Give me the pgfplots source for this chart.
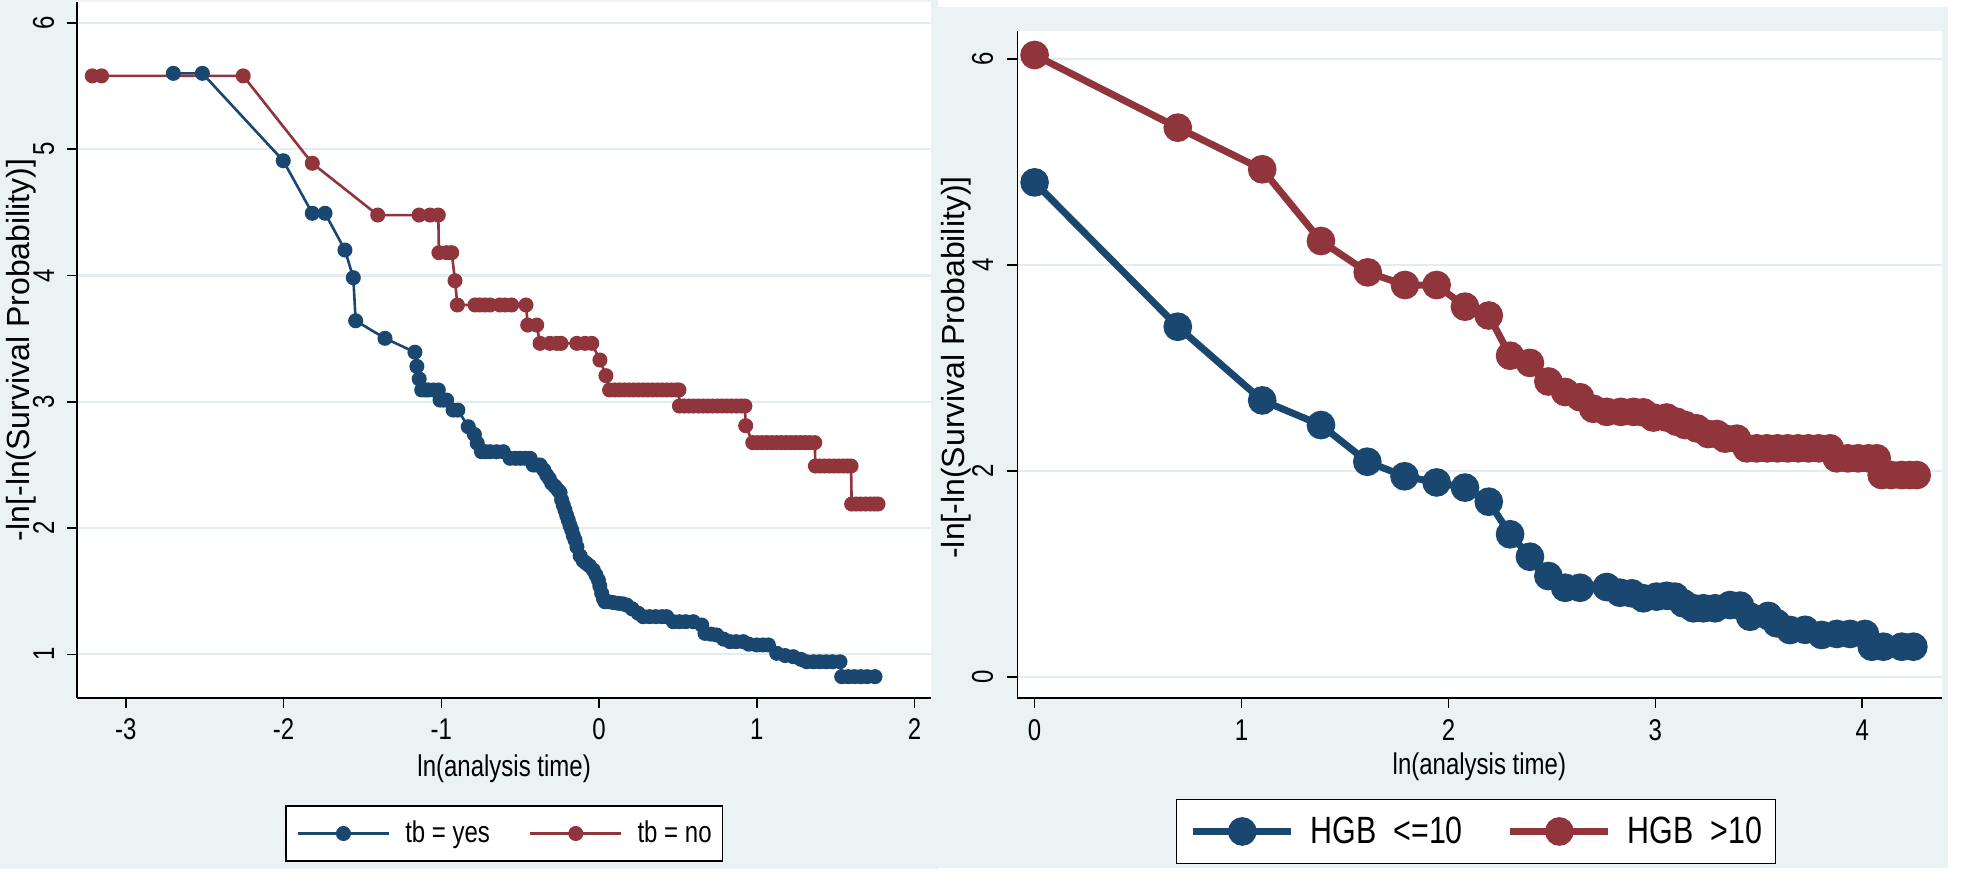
\documentclass[border=0pt]{standalone}
\usepackage{fontspec}
\usepackage{pgfplots}
\pgfplotsset{compat=1.18}
\setmainfont{Liberation Sans}
\newfontfamily\narrowfont[FakeStretch=0.8]{Liberation Sans}
\definecolor{stnavy}{HTML}{1A476F}
\definecolor{stmaroon}{HTML}{90353B}
\definecolor{stbg}{HTML}{EAF2F3}
\definecolor{stgrid}{HTML}{E3ECEE}

\pgfplotsset{
  statabase/.style={
    scale only axis,
    axis x line*=bottom, axis y line*=left,
    axis background/.style={fill=white},
    tick align=outside, major tick length=5pt,
    every tick/.style={black, line width=0.8pt},
    axis line style={black, line width=0.8pt},
    ymajorgrids, major grid style={stgrid, line width=1.1pt},
    tick label style={font=\narrowfont\fontsize{15pt}{18pt}\selectfont, inner sep=0pt},
    xticklabel style={anchor=base, yshift=-16pt},
    ylabel style={font=\fontsize{16pt}{19pt}\selectfont, anchor=center, inner sep=0pt},
    xlabel style={font=\narrowfont\fontsize{15pt}{18pt}\selectfont, anchor=base, inner sep=0pt},
    legend cell align=left,
  }
}

\begin{document}
\begin{tikzpicture}
\path[use as bounding box] (0,0) rectangle (980.5pt,-443.5pt);
\fill[stbg] (0,0) rectangle (469pt,-434.5pt);
\fill[stbg] (465pt,-3.5pt) rectangle (974pt,-434pt);

% ---------------- left panel ----------------
\begin{axis}[statabase,
  at={(38.65pt,-348.85pt)}, anchor=south west,
  width=426.85pt, height=347.85pt,
  xmin=-3.308, xmax=2.105, ymin=0.6564, ymax=6.165,
  xtick={-3,-2,-1,0,1,2}, xticklabels={-3,-2,-1,0,1,2},
  ytick={1,2,3,4,5,6}, yticklabels={1,2,3,4,5,6},
  yticklabel style={xshift=-6.4pt, rotate=90, anchor=south},
  xlabel={ln(analysis time)},
  xlabel style={at={(axis description cs:0.5,-0.1136)}},
  ylabel={-ln[-ln(Survival Probability)]},
  ylabel style={at={(axis description cs:-0.066,0.5)}},
  legend columns=2,
  legend style={at={(axis description cs:0.5,-0.1952)}, anchor=center,
    draw=black, line width=0.7pt, fill=white,
    font=\narrowfont\fontsize{15pt}{18pt}\selectfont,
    inner xsep=5.3pt, inner ysep=7.5pt,
    nodes={inner sep=0pt},
    /tikz/every odd column/.append style={column sep=7.5pt},
    /tikz/every even column/.append style={column sep=19.5pt}},
  legend image code/.code={\draw[mark repeat=2,mark phase=2,#1] plot coordinates {(0pt,0pt) (22.75pt,0pt) (45.5pt,0pt)};},
]
\addplot[stnavy, line width=1.3pt, mark=*, mark size=3.1pt, mark options={solid, fill=stnavy}] coordinates {
(-2.699,5.60) (-2.515,5.60) (-2.002,4.908) (-1.818,4.492) (-1.737,4.492) (-1.611,4.201)
(-1.558,3.982) (-1.543,3.641) (-1.357,3.502) (-1.167,3.392) (-1.155,3.28) (-1.140,3.18)
(-1.124,3.093) (-1.100,3.093) (-1.082,3.093) (-1.050,3.093) (-1.019,3.093)
(-1.008,3.013) (-0.985,3.013) (-0.966,3.013) (-0.925,2.934) (-0.895,2.934)
(-0.829,2.802) (-0.790,2.740) (-0.772,2.671) (-0.745,2.604) (-0.720,2.604) (-0.690,2.604)
(-0.650,2.604) (-0.607,2.604) (-0.564,2.552) (-0.530,2.552) (-0.500,2.552) (-0.470,2.552)
(-0.437,2.552) (-0.417,2.499) (-0.395,2.499) (-0.374,2.499) (-0.350,2.460) (-0.332,2.420)
(-0.315,2.390) (-0.300,2.354) (-0.280,2.330) (-0.260,2.300) (-0.247,2.280) (-0.237,2.222)
(-0.226,2.180) (-0.216,2.142) (-0.205,2.100) (-0.195,2.063) (-0.184,2.020) (-0.173,1.984)
(-0.163,1.940) (-0.152,1.905) (-0.140,1.850) (-0.120,1.780) (-0.100,1.740) (-0.080,1.720)
(-0.060,1.700) (-0.036,1.667) (-0.020,1.630) (-0.004,1.588) (0.005,1.540) (0.017,1.483)
(0.028,1.440) (0.038,1.416) (0.060,1.416) (0.090,1.410) (0.122,1.404) (0.150,1.400)
(0.176,1.390) (0.210,1.360) (0.249,1.325) (0.280,1.298) (0.320,1.298) (0.360,1.298)
(0.400,1.298) (0.429,1.298) (0.471,1.258) (0.510,1.258) (0.550,1.258) (0.598,1.258)
(0.651,1.232) (0.672,1.166) (0.710,1.160) (0.746,1.153) (0.790,1.120) (0.831,1.100)
(0.870,1.100) (0.915,1.100) (0.950,1.080) (1.000,1.074) (1.040,1.074) (1.074,1.074)
(1.127,1.008) (1.180,0.990) (1.232,0.981) (1.280,0.960) (1.317,0.941) (1.360,0.941)
(1.400,0.941) (1.440,0.941) (1.480,0.941) (1.528,0.941) (1.539,0.823) (1.580,0.823)
(1.620,0.823) (1.660,0.823) (1.700,0.823) (1.750,0.823)
};
\addlegendentry{tb = yes}
\addplot[stmaroon, line width=1.3pt, mark=*, mark size=3.1pt, mark options={solid, fill=stmaroon}] coordinates {
(-3.213,5.58) (-3.154,5.58) (-2.256,5.58) (-1.818,4.888) (-1.403,4.478) (-1.141,4.478)
(-1.071,4.478) (-1.019,4.478) (-1.015,4.180) (-0.966,4.180) (-0.934,4.180) (-0.913,3.958)
(-0.898,3.766) (-0.786,3.766) (-0.755,3.766) (-0.723,3.766) (-0.691,3.766) (-0.628,3.766)
(-0.596,3.766) (-0.554,3.766) (-0.463,3.766) (-0.452,3.607) (-0.395,3.607)
(-0.374,3.462) (-0.311,3.462) (-0.268,3.462) (-0.241,3.462) (-0.141,3.462) (-0.089,3.462)
(-0.046,3.462) (0.006,3.330) (0.044,3.206)
(0.067,3.093) (0.100,3.093) (0.130,3.093) (0.160,3.093) (0.190,3.093) (0.220,3.093)
(0.250,3.093) (0.280,3.093) (0.310,3.093) (0.340,3.093) (0.370,3.093) (0.400,3.093)
(0.430,3.093) (0.460,3.093) (0.490,3.093) (0.507,3.093)
(0.510,2.966) (0.540,2.966) (0.570,2.966) (0.600,2.966) (0.630,2.966) (0.660,2.966)
(0.690,2.966) (0.720,2.966) (0.750,2.966) (0.780,2.966) (0.810,2.966) (0.840,2.966)
(0.870,2.966) (0.900,2.966) (0.925,2.966) (0.930,2.810)
(0.975,2.676) (1.005,2.676) (1.035,2.676) (1.065,2.676) (1.095,2.676) (1.125,2.676)
(1.155,2.676) (1.185,2.676) (1.215,2.676) (1.245,2.676) (1.275,2.676) (1.305,2.676)
(1.335,2.676) (1.368,2.676)
(1.372,2.491) (1.400,2.491) (1.430,2.491) (1.460,2.491) (1.490,2.491) (1.520,2.491)
(1.550,2.491) (1.575,2.491) (1.598,2.491)
(1.602,2.190) (1.630,2.190) (1.660,2.190) (1.690,2.190) (1.720,2.190) (1.745,2.190) (1.769,2.190)
};
\addlegendentry{tb = no}
\end{axis}

% ---------------- right panel ----------------
\begin{axis}[statabase,
  at={(508.65pt,-349pt)}, anchor=south west,
  width=462.1pt, height=333.5pt,
  xmin=-0.0836, xmax=4.383, ymin=-0.2018, ymax=6.271,
  xtick={0,1,2,3,4}, xticklabels={0,1,2,3,4},
  ytick={0,2,4,6}, yticklabels={0,2,4,6},
  yticklabel style={xshift=-6.9pt, rotate=90, anchor=south},
  xlabel={ln(analysis time)},
  xlabel style={at={(axis description cs:0.5,-0.1154)}},
  ylabel={-ln[-ln(Survival Probability)]},
  ylabel style={at={(axis description cs:-0.0663,0.4955)}},
  legend columns=2,
  legend style={at={(axis description cs:0.4963,-0.2001)}, anchor=center,
    draw=black, line width=0.7pt, fill=white,
    font=\narrowfont\fontsize{19pt}{22pt}\selectfont,
    inner xsep=6.5pt, inner ysep=8.5pt,
    nodes={inner sep=0pt},
    /tikz/every odd column/.append style={column sep=8pt},
    /tikz/every even column/.append style={column sep=22pt}},
  legend image code/.code={\draw[mark repeat=2,mark phase=2,#1] plot coordinates {(0pt,0pt) (24.5pt,0pt) (49pt,0pt)};},
]
\addplot[stnavy, line width=3.5pt, mark=*, mark size=5.4pt, mark options={solid, fill=stnavy}] coordinates {
(0,4.802) (0.692,3.401) (1.100,2.686) (1.384,2.447) (1.608,2.091) (1.788,1.950) (1.943,1.890)
(2.080,1.840) (2.195,1.703) (2.298,1.387) (2.394,1.169) (2.483,0.982) (2.564,0.868)
(2.636,0.868) (2.765,0.875) (2.829,0.820) (2.886,0.814) (2.942,0.766) (3.006,0.782)
(3.055,0.790) (3.095,0.782) (3.135,0.717) (3.184,0.669) (3.232,0.669) (3.289,0.669)
(3.361,0.700) (3.409,0.695) (3.458,0.587) (3.546,0.595) (3.587,0.523) (3.651,0.458)
(3.724,0.460) (3.804,0.410) (3.877,0.420) (3.941,0.420) (4.013,0.420) (4.046,0.296)
(4.102,0.296) (4.191,0.296) (4.247,0.296)
};
\addlegendentry{HGB~~<=10}
\addplot[stmaroon, line width=3.5pt, mark=*, mark size=5.4pt, mark options={solid, fill=stmaroon}] coordinates {
(0,6.038) (0.692,5.333) (1.100,4.929) (1.384,4.233) (1.610,3.929) (1.790,3.806) (1.943,3.806)
(2.080,3.596) (2.195,3.510) (2.298,3.120) (2.394,3.050) (2.483,2.870) (2.564,2.768)
(2.636,2.717) (2.700,2.605) (2.765,2.575) (2.833,2.575) (2.894,2.575) (2.942,2.570)
(2.990,2.520) (3.055,2.520) (3.103,2.479) (3.144,2.447) (3.200,2.415) (3.256,2.360)
(3.297,2.360) (3.337,2.315) (3.394,2.315) (3.442,2.221) (3.490,2.221) (3.540,2.221)
(3.590,2.221) (3.640,2.221) (3.690,2.221) (3.740,2.221) (3.790,2.221) (3.844,2.221)
(3.877,2.124) (3.930,2.124) (3.980,2.124) (4.030,2.124) (4.070,2.124) (4.094,1.962)
(4.140,1.962) (4.190,1.962) (4.230,1.962) (4.263,1.962)
};
\addlegendentry{HGB~~>10}
\end{axis}
\end{tikzpicture}
\end{document}
